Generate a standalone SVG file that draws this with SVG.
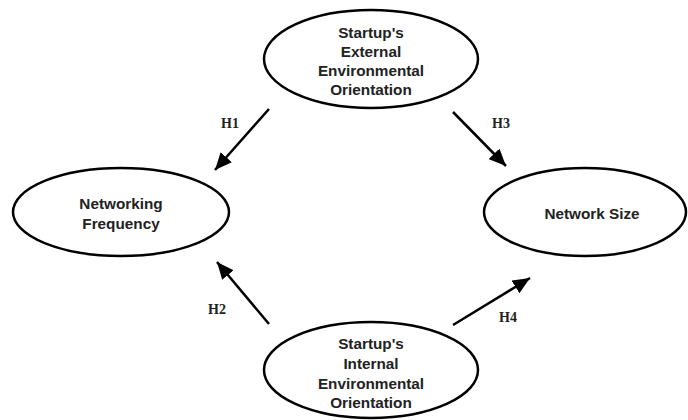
<svg xmlns="http://www.w3.org/2000/svg" width="688" height="420" viewBox="0 0 688 420">
<style>
.node ellipse{fill:#fff;stroke:#000;stroke-width:2.5}
.node text{font-family:"Liberation Sans",Arial,sans-serif;font-weight:bold;font-size:15.3px;fill:#222;text-anchor:middle;dominant-baseline:central}
.edge line{stroke:#000;stroke-width:2.5}
.lbl{font-family:"Liberation Serif","Times New Roman",serif;font-weight:bold;font-size:14px;fill:#222;text-anchor:middle;dominant-baseline:central}
</style>
<defs>
<marker id="ah" markerUnits="userSpaceOnUse" markerWidth="18" markerHeight="15" refX="17" refY="7.5" orient="auto">
<path d="M0,0 L17,7.5 L0,15 Z" fill="#000"/>
</marker>
</defs>
<rect width="688" height="420" fill="#fff"/>
<g id="ext" class="node">
<ellipse cx="371" cy="59" rx="107" ry="49"/>
<text x="371" y="32">Startup's</text>
<text x="371" y="51">External</text>
<text x="371" y="70">Environmental</text>
<text x="371" y="89">Orientation</text>
</g>
<g id="freq" class="node">
<ellipse cx="121" cy="212" rx="108" ry="44"/>
<text x="121" y="203">Networking</text>
<text x="121" y="223">Frequency</text>
</g>
<g id="size" class="node">
<ellipse cx="585" cy="212" rx="101" ry="44"/>
<text x="592" y="213">Network Size</text>
</g>
<g id="int" class="node">
<ellipse cx="371" cy="370" rx="107" ry="48"/>
<text x="371" y="343">Startup's</text>
<text x="371" y="363">Internal</text>
<text x="371" y="383">Environmental</text>
<text x="371" y="402">Orientation</text>
</g>
<g id="edges" class="edge">
<line x1="269" y1="109" x2="215" y2="170" marker-end="url(#ah)"/>
<line x1="453" y1="112" x2="506" y2="166" marker-end="url(#ah)"/>
<line x1="269" y1="324" x2="217" y2="262" marker-end="url(#ah)"/>
<line x1="453" y1="325" x2="530" y2="278" marker-end="url(#ah)"/>
<text class="lbl" x="230" y="123">H1</text>
<text class="lbl" x="501" y="123">H3</text>
<text class="lbl" x="217" y="309">H2</text>
<text class="lbl" x="508" y="317">H4</text>
</g>
</svg>
